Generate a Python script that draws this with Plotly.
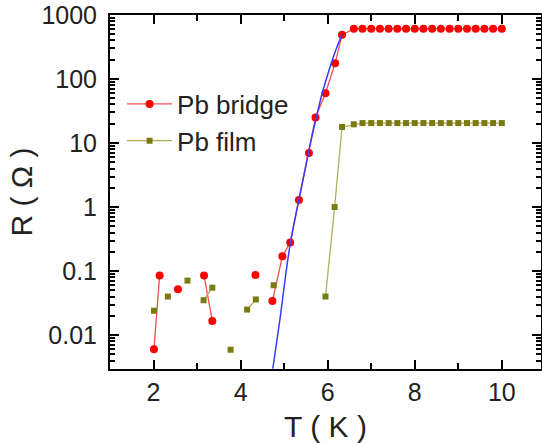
import plotly.graph_objects as go

# Pb bridge (red) - None marks breaks in the connecting line
bridge_T = [2.01, 2.14, None, 2.56, None, 3.16, 3.35, None, 4.34, None,
            4.73, 4.96, 5.14, 5.34, 5.57, 5.72, 5.95, 6.17, 6.33,
            6.6, 6.8, 7.0, 7.2, 7.4, 7.6, 7.8, 8.0, 8.2, 8.4, 8.6, 8.8,
            9.0, 9.2, 9.4, 9.6, 9.8, 10.0]
bridge_R = [0.006, 0.085, None, 0.052, None, 0.085, 0.0166, None, 0.087, None,
            0.034, 0.17, 0.28, 1.29, 7.0, 25, 60, 176, 490,
            610, 612, 612, 612, 612, 612, 612, 612, 612, 612, 612, 612,
            612, 612, 612, 612, 612, 612]

# Pb film (olive)
film_T = [2.01, None, 2.33, None, 2.78, None, 3.15, 3.35, None, 3.77, None,
          4.15, 4.35, None, 4.76, None, 5.95, 6.16, 6.33,
          6.6, 6.8, 7.0, 7.2, 7.4, 7.6, 7.8, 8.0, 8.2, 8.4, 8.6, 8.8,
          9.0, 9.2, 9.4, 9.6, 9.8, 10.0]
film_R = [0.024, None, 0.040, None, 0.071, None, 0.035, 0.055, None, 0.0059, None,
          0.025, 0.036, None, 0.060, None, 0.040, 1.0, 17.8,
          19.6, 20.5, 20.5, 20.5, 20.5, 20.5, 20.5, 20.5, 20.5, 20.5, 20.5, 20.5,
          20.5, 20.5, 20.5, 20.5, 20.5, 20.5]

# fit curve (blue)
fit_T = [4.74, 4.90, 5.13, 5.43, 5.60, 5.75, 5.88, 6.05, 6.20, 6.33]
fit_R = [0.003, 0.017, 0.24, 2.6, 9.5, 27, 62, 150, 300, 490]

y_tickvals = [0.01, 0.1, 1, 10, 100, 1000]
y_ticktext = ["0.01", "0.1", "1", "10", "100", "1000"]
y_minor = [m * d for d in [0.001, 0.01, 0.1, 1, 10, 100] for m in range(2, 10)]
x_tickvals = [2, 4, 6, 8, 10]
x_minor = [3, 5, 7, 9]

FONT = "Liberation Sans, Arial, sans-serif"
Y_RANGE = [-2.53, 3]

fig = go.Figure()
fig.add_trace(go.Scatter(x=fit_T, y=fit_R, mode="lines", yaxis="y2",
                         line=dict(color="#3a3aff", width=1.5, shape="spline"),
                         showlegend=False))
fig.add_trace(go.Scatter(x=bridge_T, y=bridge_R, mode="lines+markers", name="Pb bridge",
                         line=dict(color="#f05050", width=1.3),
                         marker=dict(symbol="circle", size=8, color="#ff0000"),
                         connectgaps=False))
fig.add_trace(go.Scatter(x=film_T, y=film_R, mode="lines+markers", name="Pb film",
                         line=dict(color="#b0b060", width=1.3),
                         marker=dict(symbol="square", size=6, color="#7a7a12"),
                         connectgaps=False))

fig.update_layout(
    template="simple_white",
    width=542, height=443,
    margin=dict(l=110, r=1, t=15, b=74),
    plot_bgcolor="white", paper_bgcolor="white",
    font=dict(family=FONT, size=25, color="#222"),
    legend=dict(x=0.028, y=0.815, xanchor="left", yanchor="top", bgcolor="rgba(0,0,0,0)",
                font=dict(size=26), itemwidth=45, tracegroupgap=0),
    yaxis2=dict(type="log", range=Y_RANGE, overlaying="y", side="left", anchor="x",
                tickmode="array", tickvals=y_minor, ticks="inside", ticklen=5, tickwidth=2,
                tickcolor="#000000", showticklabels=False, showline=False, showgrid=False,
                zeroline=False, mirror="ticks", automargin=False),
    yaxis=dict(type="log", range=Y_RANGE, tickmode="array", tickvals=y_tickvals, ticktext=y_ticktext,
               ticks="inside", ticklen=9, tickwidth=2, tickcolor="#000000",
               showline=True, linecolor="black", linewidth=2, mirror="ticks",
               showgrid=False, zeroline=False, automargin=False,
               title=dict(text="R ( Ω )", standoff=0), tickfont=dict(size=25),
               ticklabelstandoff=6),
    xaxis=dict(range=[1, 10.9], tickmode="array", tickvals=x_tickvals, ticks="inside", ticklen=9, tickwidth=2,
               tickcolor="#000000", showline=True, linecolor="black", linewidth=2, mirror="ticks",
               showgrid=False, zeroline=False, automargin=False,
               minor=dict(tickmode="array", tickvals=x_minor, ticks="inside", ticklen=6, tickwidth=2,
                          tickcolor="#000000"),
               title=dict(text="T ( K )", standoff=16), tickfont=dict(size=25)),
)

fig.write_html("out.html")
